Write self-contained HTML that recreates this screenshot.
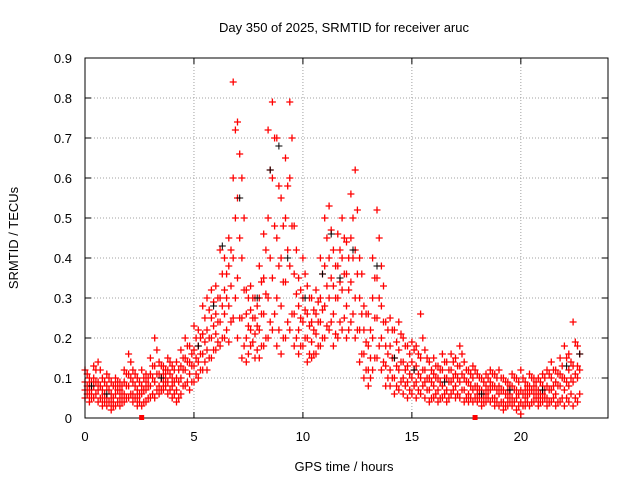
<!DOCTYPE html>
<html><head><meta charset="utf-8"><style>
body{margin:0;background:#fff;}
svg text{font-family:"Liberation Sans",sans-serif;font-size:13px;fill:#000;}
</style></head><body>
<svg id="chart" width="640" height="480" xmlns="http://www.w3.org/2000/svg">
<rect width="640" height="480" fill="#fff"/>
<text x="344" y="32" text-anchor="middle">Day 350 of 2025, SRMTID for receiver aruc</text>
<text x="344" y="471" text-anchor="middle">GPS time / hours</text>
<text transform="translate(18,238) rotate(-90)" text-anchor="middle">SRMTID / TECUs</text>
<g id="grid"></g>
<g id="ticks"></g>
<g id="red" stroke="#f00" stroke-width="1.3" fill="none"></g>
<g id="blk" stroke="#000" stroke-width="1" fill="none"></g>
<rect x="85" y="58" width="523" height="360" fill="none" stroke="#000"/>
</svg>
<script>
const xTicks=[0,5,10,15,20];
const yTicks=[0,0.1,0.2,0.3,0.4,0.5,0.6,0.7,0.8,0.9];
const yTickLabels=["0","0.1","0.2","0.3","0.4","0.5","0.6","0.7","0.8","0.9"];
const times=[0.0,0.2,0.4,0.6,0.8,1.0,1.2,1.4,1.6,1.8,2.0,2.2,2.4,2.6,2.8,3.0,3.2,3.4,3.6,3.8,4.0,4.2,4.4,4.6,4.8,5.0,5.2,5.4,5.6,5.8,6.0,6.2,6.4,6.6,6.8,7.0,7.2,7.4,7.6,7.8,8.0,8.2,8.4,8.6,8.8,9.0,9.2,9.4,9.6,9.8,10.0,10.2,10.4,10.6,10.8,11.0,11.2,11.4,11.6,11.8,12.0,12.2,12.4,12.6,12.8,13.0,13.2,13.4,13.6,13.8,14.0,14.2,14.4,14.6,14.8,15.0,15.2,15.4,15.6,15.8,16.0,16.2,16.4,16.6,16.8,17.0,17.2,17.4,17.6,17.8,18.0,18.2,18.4,18.6,18.8,19.0,19.2,19.4,19.6,19.8,20.0,20.2,20.4,20.6,20.8,21.0,21.2,21.4,21.6,21.8,22.0,22.2,22.4,22.6];
const valsLow=[.05,.04,.05,.04,.03,.03,.02,.03,.03,.04,.05,.04,.03,.03,.04,.05,.05,.06,.07,.06,.05,.04,.06,.08,.07,.09,.10,.12,.12,.15,.17,.18,.20,.19,.25,.20,.15,.14,.18,.15,.15,.18,.20,.22,.18,.16,.20,.22,.18,.16,.18,.14,.15,.16,.18,.20,.22,.18,.20,.22,.20,.24,.20,.14,.10,.08,.12,.15,.12,.08,.08,.06,.07,.06,.05,.06,.05,.06,.05,.04,.05,.04,.05,.04,.06,.05,.05,.04,.04,.04,.04,.03,.04,.04,.03,.03,.02,.03,.03,.02,.01,.03,.03,.04,.03,.04,.03,.04,.03,.04,.03,.04,.03,.04];
const valsQ1=[.07,.06,.08,.07,.05,.05,.04,.06,.05,.06,.08,.06,.05,.06,.07,.08,.09,.08,.09,.09,.08,.07,.10,.12,.11,.13,.14,.16,.17,.20,.21,.24,.26,.28,.40,.35,.25,.20,.22,.21,.22,.26,.30,.35,.30,.28,.34,.38,.26,.22,.24,.20,.19,.21,.24,.28,.30,.26,.30,.32,.28,.34,.30,.22,.16,.12,.20,.25,.20,.13,.12,.10,.12,.10,.09,.10,.09,.10,.09,.07,.08,.07,.08,.07,.09,.08,.09,.07,.06,.07,.06,.05,.06,.07,.05,.06,.04,.05,.05,.05,.04,.05,.06,.06,.05,.06,.05,.07,.06,.08,.07,.08,.09,.10];
const valsQ3=[.09,.08,.10,.09,.07,.08,.06,.08,.07,.09,.11,.09,.07,.08,.09,.11,.13,.11,.11,.12,.10,.10,.13,.15,.14,.17,.18,.21,.22,.25,.26,.30,.32,.38,.60,.55,.40,.26,.27,.25,.30,.35,.50,.60,.45,.40,.50,.60,.36,.28,.30,.26,.24,.26,.30,.38,.40,.33,.38,.40,.36,.45,.42,.30,.22,.18,.30,.35,.28,.18,.18,.15,.17,.14,.13,.14,.13,.15,.12,.10,.11,.10,.12,.10,.12,.11,.13,.10,.09,.10,.08,.07,.08,.09,.08,.08,.07,.07,.08,.07,.07,.07,.08,.08,.07,.08,.08,.10,.09,.11,.10,.12,.13,.13];
const valsHigh=[.12,.10,.13,.14,.10,.11,.09,.10,.09,.12,.16,.12,.10,.12,.11,.15,.20,.14,.13,.15,.13,.14,.17,.20,.18,.23,.22,.28,.30,.32,.33,.42,.40,.45,.84,.74,.60,.32,.33,.30,.38,.46,.72,.79,.70,.55,.65,.79,.48,.35,.40,.33,.30,.32,.40,.50,.53,.42,.46,.50,.44,.56,.62,.40,.28,.26,.40,.52,.38,.24,.25,.22,.24,.20,.18,.19,.18,.26,.17,.14,.15,.13,.16,.14,.16,.15,.18,.14,.12,.13,.11,.10,.11,.12,.11,.12,.10,.09,.11,.10,.12,.09,.11,.10,.10,.11,.12,.14,.12,.15,.18,.16,.24,.18];
const times2=[0.1,0.3,0.5,0.7,0.9,1.1,1.3,1.5,1.7,1.9,2.1,2.3,2.5,2.7,2.9,3.1,3.3,3.5,3.7,3.9,4.1,4.3,4.5,4.7,4.9,5.1,5.3,5.5,5.7,5.9,6.1,6.3,6.5,6.7,6.9,7.1,7.3,7.5,7.7,7.9,8.1,8.3,8.5,8.7,8.9,9.1,9.3,9.5,9.7,9.9,10.1,10.3,10.5,10.7,10.9,11.1,11.3,11.5,11.7,11.9,12.1,12.3,12.5,12.7,12.9,13.1,13.3,13.5,13.7,13.9,14.1,14.3,14.5,14.7,14.9,15.1,15.3,15.5,15.7,15.9,16.1,16.3,16.5,16.7,16.9,17.1,17.3,17.5,17.7,17.9,18.1,18.3,18.5,18.7,18.9,19.1,19.3,19.5,19.7,19.9,20.1,20.3,20.5,20.7,20.9,21.1,21.3,21.5,21.7,21.9,22.1,22.3,22.5,22.7];
const vals2a=[.06,.05,.06,.05,.04,.04,.03,.04,.04,.05,.06,.05,.04,.04,.05,.06,.07,.07,.08,.07,.06,.05,.08,.09,.09,.11,.12,.14,.15,.17,.19,.20,.22,.24,.30,.25,.18,.16,.19,.17,.18,.20,.24,.26,.22,.20,.24,.26,.20,.18,.20,.16,.16,.18,.20,.23,.24,.21,.24,.25,.22,.26,.22,.16,.12,.10,.15,.18,.14,.10,.10,.08,.09,.08,.07,.08,.07,.08,.07,.05,.06,.05,.06,.05,.07,.06,.07,.05,.05,.05,.05,.04,.05,.05,.04,.04,.03,.04,.04,.03,.03,.04,.04,.05,.04,.05,.04,.05,.04,.05,.05,.06,.05,.06];
const vals2b=[.08,.07,.09,.08,.06,.07,.05,.07,.06,.08,.10,.08,.06,.07,.08,.10,.11,.10,.10,.11,.09,.09,.12,.14,.13,.15,.16,.19,.20,.23,.24,.28,.30,.33,.50,.45,.32,.23,.25,.23,.26,.31,.40,.48,.38,.34,.42,.48,.31,.25,.27,.23,.22,.24,.27,.33,.35,.30,.34,.36,.32,.40,.36,.26,.19,.15,.25,.30,.24,.16,.15,.13,.14,.12,.11,.12,.11,.12,.10,.09,.10,.09,.10,.09,.10,.10,.11,.09,.08,.08,.07,.06,.07,.08,.07,.07,.06,.06,.07,.06,.06,.06,.07,.07,.06,.07,.07,.08,.08,.10,.09,.10,.11,.12];
const vals2c=[.11,.09,.12,.12,.09,.10,.08,.09,.08,.11,.14,.11,.09,.10,.10,.13,.17,.13,.12,.14,.12,.12,.15,.18,.16,.20,.20,.25,.27,.29,.30,.36,.36,.42,.72,.66,.50,.30,.30,.28,.34,.42,.62,.70,.58,.48,.58,.70,.42,.32,.36,.30,.27,.29,.36,.45,.47,.38,.42,.45,.40,.50,.52,.36,.26,.22,.35,.45,.33,.22,.22,.19,.21,.18,.16,.17,.16,.20,.15,.12,.13,.12,.14,.12,.14,.13,.16,.12,.11,.12,.10,.09,.10,.11,.10,.10,.09,.08,.10,.09,.10,.08,.10,.09,.09,.10,.11,.12,.11,.13,.15,.14,.19,.16];
const blackT=[0.3,1.0,3.5,5.2,5.9,6.3,7.1,7.9,8.5,8.9,9.3,10.1,10.9,11.3,11.7,12.3,13.4,14.2,15.1,16.5,18.2,19.5,21.0,22.1,22.7];
const blackV=[.08,.06,.10,.18,.28,.43,.55,.30,.62,.68,.40,.30,.36,.46,.35,.42,.38,.15,.12,.09,.06,.07,.07,.13,.16];
const sx=t=>85+t*(523/24);
const sy=v=>418-v*400;
const NS="http://www.w3.org/2000/svg";
const grid=document.getElementById('grid'),ticks=document.getElementById('ticks');
function mk(tag,attrs,parent){const e=document.createElementNS(NS,tag);for(const k in attrs)e.setAttribute(k,attrs[k]);parent.appendChild(e);return e;}
xTicks.forEach(t=>{const x=sx(t);
 const g=mk('line',{x1:x,x2:x,y1:58,y2:418,stroke:'#a0a0a0','stroke-dasharray':'1,2'},grid);
 
 
 mk('line',{x1:x,x2:x,y1:418,y2:412,stroke:'#000'},ticks);
 mk('line',{x1:x,x2:x,y1:58,y2:64,stroke:'#000'},ticks);
 const l=mk('text',{x:x,y:441,'text-anchor':'middle'},ticks);l.textContent=t;
 
 
});
yTicks.forEach((v,i)=>{const y=sy(v);
 const g=mk('line',{x1:85,x2:608,y1:y,y2:y,stroke:'#a0a0a0','stroke-dasharray':'1,2'},grid);
 
 
 mk('line',{x1:85,x2:91,y1:y,y2:y,stroke:'#000'},ticks);
 mk('line',{x1:602,x2:608,y1:y,y2:y,stroke:'#000'},ticks);
 const l=mk('text',{x:72,y:y+5,'text-anchor':'end'},ticks);l.textContent=yTickLabels[i];
 
 
});
function plus(x,y){return `M${(x-3.5).toFixed(1)} ${y.toFixed(1)}h7M${x.toFixed(1)} ${(y-3.5).toFixed(1)}v7`;}
let db='';blackT.forEach((t,i)=>{db+=plus(sx(t),sy(blackV[i]));});
const bp=mk('path',{d:db},document.getElementById('blk'));


let d='';
[valsLow,valsQ1,valsQ3,valsHigh].forEach(arr=>arr.forEach((v,i)=>{d+=plus(sx(times[i]),sy(v));}));
[vals2a,vals2b,vals2c].forEach(arr=>arr.forEach((v,i)=>{d+=plus(sx(times2[i]),sy(v));}));
const rp=mk('path',{d:d},document.getElementById('red'));


[2.6,17.9].forEach(t=>{const r=mk('rect',{x:sx(t)-2.5,y:415,width:5,height:5,fill:'#f00'},document.getElementById('chart'));
 
 });
</script>
</body></html>
